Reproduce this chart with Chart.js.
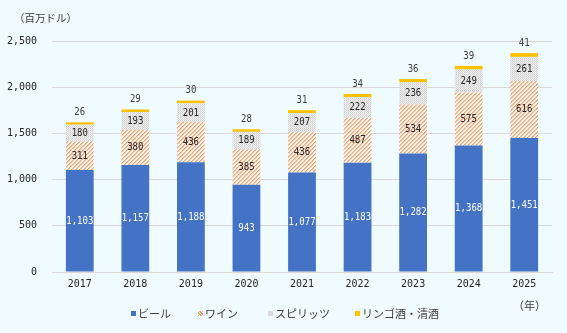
<!DOCTYPE html>
<html>
<head>
<meta charset="utf-8">
<script src="https://cdn.jsdelivr.net/npm/chart.js@4/dist/chart.umd.min.js"></script>
<style>
  html, body { margin: 0; padding: 0; background: #EFFBFE; }
  #wrap { position: relative; width: 567px; height: 333px; background: #EFFBFE; overflow: hidden; }
  #c { position: absolute; left: 0; top: 0; }
  .txt { position: absolute; font-family: "Noto Sans CJK JP", sans-serif; color: #404040; white-space: nowrap; line-height: 1; }
  .lg { position: absolute; top: 307px; font-family: "Noto Sans CJK JP", sans-serif; font-size: 11px; color: #404040; line-height: 12px; white-space: nowrap; }
  .mk { display: inline-block; width: 5px; height: 5px; margin-right: 2px; vertical-align: 2px; }
</style>
</head>
<body>
<div id="wrap">
  <canvas id="c" width="567" height="333"></canvas>
  <div class="txt" style="left:14px; top:13px; font-size:10.5px;">（百万ドル）</div>
  <div class="txt" style="left:513px; top:300px; font-size:11px;">（年）</div>
  <div class="lg" style="left:131px;"><span class="mk" style="background:#4472C4"></span>ビール</div>
  <div class="lg" style="left:198px;"><span class="mk" style="background:repeating-linear-gradient(45deg,#F4A46A 0 1px,#fff 1px 2px)"></span>ワイン</div>
  <div class="lg" style="left:268px;"><span class="mk" style="background:#D9D9D9"></span>スピリッツ</div>
  <div class="lg" style="left:355px;"><span class="mk" style="background:#FFC000"></span>リンゴ酒・清酒</div>
</div>
<script>
const categories = ["2017", "2018", "2019", "2020", "2021", "2022", "2023", "2024", "2025"];
const beer    = [1103, 1157, 1188, 943, 1077, 1183, 1282, 1368, 1451];
const wine    = [311, 380, 436, 385, 436, 487, 534, 575, 616];
const spirits = [180, 193, 201, 189, 207, 222, 236, 249, 261];
const cider   = [26, 29, 30, 28, 31, 34, 36, 39, 41];
const seriesNames = ["ビール", "ワイン", "スピリッツ", "リンゴ酒・清酒"];
const yTicks = [0, 500, 1000, 1500, 2000, 2500];

function makeHatch() {
  const p = document.createElement('canvas');
  p.width = 4; p.height = 4;
  const g = p.getContext('2d');
  for (let x = 0; x < 4; x++) {
    for (let y = 0; y < 4; y++) {
      const k = (x + y) % 4;
      g.fillStyle = k === 0 ? '#F4A070' : (k === 1 ? '#F9C7A6' : '#FFF6EF');
      g.fillRect(x, y, 1, 1);
    }
  }
  return document.getElementById('c').getContext('2d').createPattern(p, 'repeat');
}
function makeDots() {
  const p = document.createElement('canvas');
  p.width = 2; p.height = 2;
  const g = p.getContext('2d');
  g.fillStyle = '#EDEDED'; g.fillRect(0, 0, 2, 2);
  g.fillStyle = '#CDCDCD'; g.fillRect(0, 0, 1, 1);
  g.fillStyle = '#D8D8D8'; g.fillRect(1, 1, 1, 1);
  g.fillStyle = '#F6F6F6'; g.fillRect(1, 0, 1, 1);
  return document.getElementById('c').getContext('2d').createPattern(p, 'repeat');
}

const labelPlugin = {
  id: 'barLabels',
  afterDatasetsDraw(chart) {
    const ctx = chart.ctx;
    chart.data.datasets.forEach((ds, di) => {
      const meta = chart.getDatasetMeta(di);
      meta.data.forEach((el, i) => {
        const v = ds.data[i];
        const txt = v.toLocaleString('en-US');
        let y, color;
        if (di === 3) {
          y = el.y - 10;
          color = '#404040';
        } else {
          y = (el.y + el.base) / 2;
          color = di === 0 ? '#ffffff' : '#262626';
        }
        ctx.save();
        ctx.translate(el.x, y);
        ctx.scale(0.82, 1);
        ctx.font = '11px "DejaVu Sans Mono", monospace';
        ctx.textAlign = 'center';
        ctx.textBaseline = 'middle';
        ctx.fillStyle = color;
        ctx.fillText(txt, 0, 0);
        ctx.restore();
      });
    });
  }
};

const tickFont = { family: '"DejaVu Sans Mono", monospace', size: 10 };

new Chart(document.getElementById('c'), {
  type: 'bar',
  data: {
    labels: categories,
    datasets: [
      { label: seriesNames[0], data: beer, backgroundColor: '#4472C4' },
      { label: seriesNames[1], data: wine, backgroundColor: makeHatch() },
      { label: seriesNames[2], data: spirits, backgroundColor: makeDots() },
      { label: seriesNames[3], data: cider, backgroundColor: '#FFC000' }
    ]
  },
  options: {
    responsive: false,
    animation: false,
    layout: { padding: { left: 0, right: 15, top: 41, bottom: 0 } },
    datasets: { bar: { categoryPercentage: 1.0, barPercentage: 0.5 } },
    plugins: { legend: { display: false }, tooltip: { enabled: false } },
    scales: {
      x: {
        stacked: true,
        grid: { display: false, drawTicks: false },
        border: { display: true, color: '#D9D9D9', width: 1 },
        ticks: { color: '#262626', font: tickFont, padding: 6 },
        afterFit(s) { s.height = 61; }
      },
      y: {
        stacked: true,
        min: 0, max: 2500,
        afterBuildTicks(s) { s.ticks = yTicks.map(v => ({ value: v })); },
        grid: { color: '#D9D9D9', drawTicks: false },
        border: { display: false },
        ticks: { color: '#262626', font: tickFont, padding: 15,
          callback: v => v.toLocaleString('en-US') },
        afterFit(s) { s.width = 52; }
      }
    }
  },
  plugins: [labelPlugin]
});
</script>
</body>
</html>
